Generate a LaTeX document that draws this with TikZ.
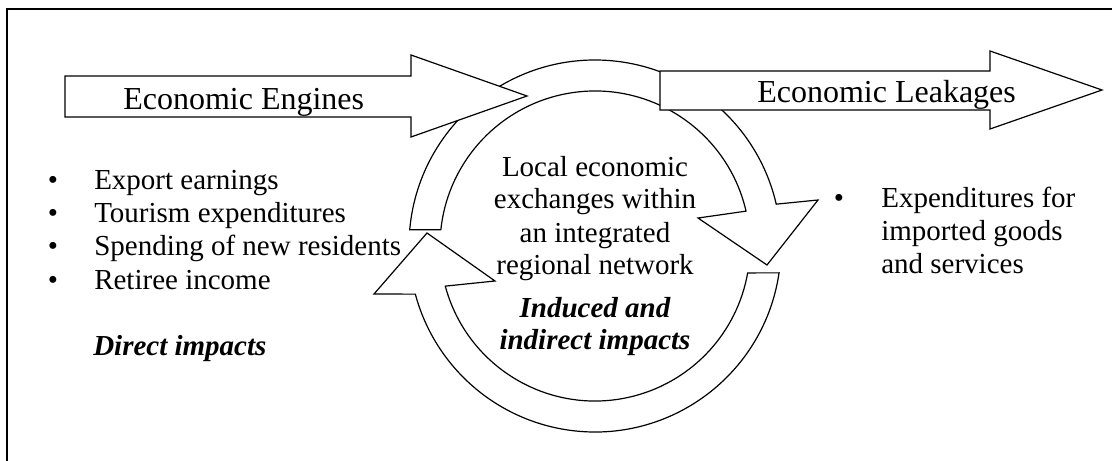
\documentclass[tikz,border=0pt]{standalone}
\usepackage{fontspec}
\setmainfont{Liberation Serif}
\usetikzlibrary{calc}
\begin{document}
\begin{tikzpicture}[x=0.75pt,y=-0.75pt,
  shapeline/.style={draw=black, line width=0.9pt, fill=white, line join=miter},
  frameline/.style={draw=black, line width=1.3pt},
  body/.style={inner sep=0pt, font=\fontsize{21.75}{26}\selectfont},
  big/.style={inner sep=0pt, font=\fontsize{24}{28}\selectfont},
  bi/.style={inner sep=0pt, font=\fontsize{21.75}{26}\selectfont\bfseries\itshape}]
\useasboundingbox (0,0) rectangle (1112,460);
\draw[frameline] (7,462) -- (7,9) -- (1114,9);
\coordinate (c) at (595,246);
% top circular arrow
\draw[shapeline] ($(c)+(185:186)$) arc[start angle=185,end angle=347,radius=186]
  -- (818,200) -- (767,265) -- (698,218) -- ($(c)+(347:155)$)
  arc[start angle=347,end angle=186,radius=155] -- cycle;
% bottom circular arrow
\draw[shapeline] ($(c)+(8.3:186)$) arc[start angle=8.3,end angle=165,radius=186]
  -- (374,294) -- (427,233) -- (495,281) -- ($(c)+(165:155)$)
  arc[start angle=165,end angle=10,radius=155] -- cycle;
% straight arrows
\draw[shapeline] (65,76) -- (411,76) -- (411,55) -- (527,96) -- (411,137) -- (411,117) -- (65,117) -- cycle;
\draw[shapeline] (660,71) -- (990,71) -- (990,51) -- (1102,90) -- (990,129) -- (990,110) -- (660,110) -- cycle;
% texts
\node[big, anchor=base west] (eng) at (123,109) {Economic Engines};
\node[big, anchor=base west] (leak) at (757,102) {Economic Leakages};
\node[body, anchor=base] (b1) at (53,189) {•};
\node[body, anchor=base] (b2) at (53,222) {•};
\node[body, anchor=base] (b3) at (53,255) {•};
\node[body, anchor=base] (b4) at (53,289) {•};
\node[body, anchor=base west] (t1) at (94,189) {Export earnings};
\node[body, anchor=base west] (t2) at (94,222) {Tourism expenditures};
\node[body, anchor=base west] (t3) at (94,255) {Spending of new residents};
\node[body, anchor=base west] (t4) at (94,289) {Retiree income};
\node[bi, anchor=base west] (direct) at (93,355) {Direct impacts};
\node[body, anchor=base] (c1) at (595,176) {Local economic};
\node[body, anchor=base] (c2) at (595,208) {exchanges within};
\node[body, anchor=base] (c3) at (595,242) {an integrated};
\node[body, anchor=base] (c4) at (595,274) {regional network};
\node[bi, anchor=base] (c5) at (595,317) {Induced and};
\node[bi, anchor=base] (c6) at (595,349) {indirect impacts};
\node[body, anchor=base] (rb) at (839,207) {•};
\node[body, anchor=base west] (r1) at (881,207) {Expenditures for};
\node[body, anchor=base west] (r2) at (881,240) {imported goods};
\node[body, anchor=base west] (r3) at (881,273) {and services};
\end{tikzpicture}
\end{document}
